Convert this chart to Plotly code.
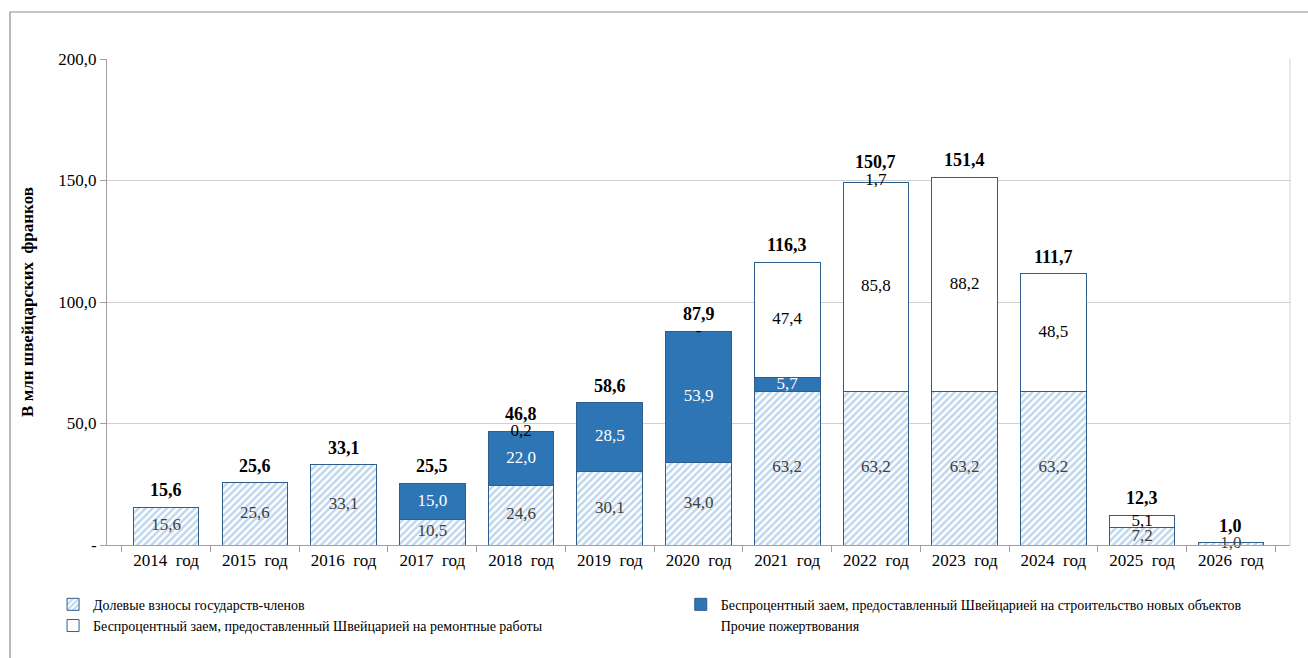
import numpy as np
import plotly.graph_objects as go

# Categories and series (млн швейцарских франков)
years = ["2014  год", "2015  год", "2016  год", "2017  год", "2018  год", "2019  год",
         "2020  год", "2021  год", "2022  год", "2023  год", "2024  год", "2025  год", "2026  год"]
member_shares = [15.6, 25.6, 33.1, 10.5, 24.6, 30.1, 34.0, 63.2, 63.2, 63.2, 63.2, 7.2, 1.0]
loan_new_build = [None, None, None, 15.0, 22.0, 28.5, 53.9, 5.7, None, None, None, None, None]
loan_repairs = [None, None, None, None, None, None, None, 47.4, 85.8, 88.2, 48.5, 5.1, None]
other_donations = [None, None, None, None, 0.2, None, 0.0, None, 1.7, None, None, None, None]
totals = [15.6, 25.6, 33.1, 25.5, 46.8, 58.6, 87.9, 116.3, 150.7, 151.4, 111.7, 12.3, 1.0]

series_names = [
    "Долевые взносы государств-членов",
    "Беспроцентный заем, предоставленный Швейцарией на строительство новых объектов",
    "Беспроцентный заем, предоставленный Швейцарией на ремонтные работы",
    "Прочие пожертвования",
]

FONT = "Liberation Serif, DejaVu Serif, Times New Roman, serif"
EDGE = "#2F5D8C"


def fmt(v):
    return "-" if v == 0 else f"{v:.1f}".replace(".", ",")


def arr(vals):
    return np.array([np.nan if v is None else v for v in vals], dtype=float)


fig = go.Figure()

# stacked bars; two legend blocks form the two legend columns
fig.add_trace(go.Bar(
    x=years, y=member_shares, name=series_names[0], legend="legend",
    marker=dict(color="white", line=dict(color=EDGE, width=1),
                pattern=dict(shape="/", fgcolor="#80AEDC", bgcolor="white", size=5, solidity=0.5)),
))
fig.add_trace(go.Bar(
    x=years, y=loan_new_build, name=series_names[1], legend="legend2",
    marker=dict(color="#2E75B6", line=dict(color=EDGE, width=1)),
))
fig.add_trace(go.Bar(
    x=years, y=loan_repairs, name=series_names[2], legend="legend",
    marker=dict(color="white", line=dict(color=EDGE, width=1)),
))
fig.add_trace(go.Bar(
    x=years, y=other_donations, name=series_names[3], legend="legend2",
    marker=dict(color="rgba(0,0,0,0)", line=dict(width=0)),
))

# segment value labels, centred in each stacked segment
label_colors = ["#404040", "white", "black", "black"]
base = np.zeros(len(years))
for vals, col in zip([member_shares, loan_new_build, loan_repairs, other_donations], label_colors):
    a = arr(vals)
    seg = np.nan_to_num(a)
    mids = base + seg / 2
    texts = ["" if v is None else fmt(v) for v in vals]
    fig.add_trace(go.Scatter(
        x=years, y=mids, mode="text", text=texts, textposition="middle center",
        textfont=dict(family=FONT, size=17, color=col),
        showlegend=False, hoverinfo="skip", cliponaxis=False,
    ))
    base = base + seg

# totals above bars
for yr, t in zip(years, totals):
    fig.add_annotation(x=yr, y=t, text=f"<b>{fmt(t)}</b>", showarrow=False,
                       yanchor="bottom", yshift=5,
                       font=dict(family=FONT, size=18, color="black"))

legend_common = dict(orientation="v", yanchor="top", xanchor="left", traceorder="normal",
                     font=dict(family=FONT, size=14, color="black"), itemwidth=30,
                     tracegroupgap=0, bgcolor="rgba(0,0,0,0)")

fig.update_layout(
    width=1308, height=658,
    barmode="stack", bargap=0.26,
    paper_bgcolor="white", plot_bgcolor="white",
    margin=dict(l=107, r=18, t=59, b=113, autoexpand=False),
    font=dict(family=FONT, size=17, color="black"),
    showlegend=True,
    legend=dict(x=-0.0456, y=-0.09, **legend_common),
    legend2=dict(x=0.485, y=-0.09, **legend_common),
    shapes=[
        dict(type="rect", xref="paper", yref="paper", x0=-0.082, x1=1.02, y0=-0.24, y1=1.0967,
             line=dict(color="#8C8C8C", width=1.2), layer="below"),
        dict(type="line", xref="paper", yref="paper", x0=1, x1=1, y0=0, y1=1,
             line=dict(color="#D0D0D0", width=1)),
    ],
)

fig.update_xaxes(
    type="category", showgrid=False, showline=True, linecolor="#A0A0A0", linewidth=1,
    ticks="outside", tickson="boundaries", ticklen=6, tickcolor="#A0A0A0",
    tickfont=dict(family=FONT, size=17, color="black"),
)
fig.update_yaxes(
    range=[0, 200], tickvals=[0, 50, 100, 150, 200],
    ticktext=["-", "50,0", "100,0", "150,0", "200,0"],
    showgrid=True, gridcolor="#D0D0D0", gridwidth=1,
    showline=True, linecolor="#A0A0A0", linewidth=1,
    ticks="outside", ticklen=6, tickcolor="#A0A0A0",
    tickfont=dict(family=FONT, size=17, color="black"),
    title=dict(text="<b>В млн швейцарских  франков</b>", standoff=20,
               font=dict(family=FONT, size=17, color="black")),
    zeroline=False,
)

fig.write_html("out.html")
